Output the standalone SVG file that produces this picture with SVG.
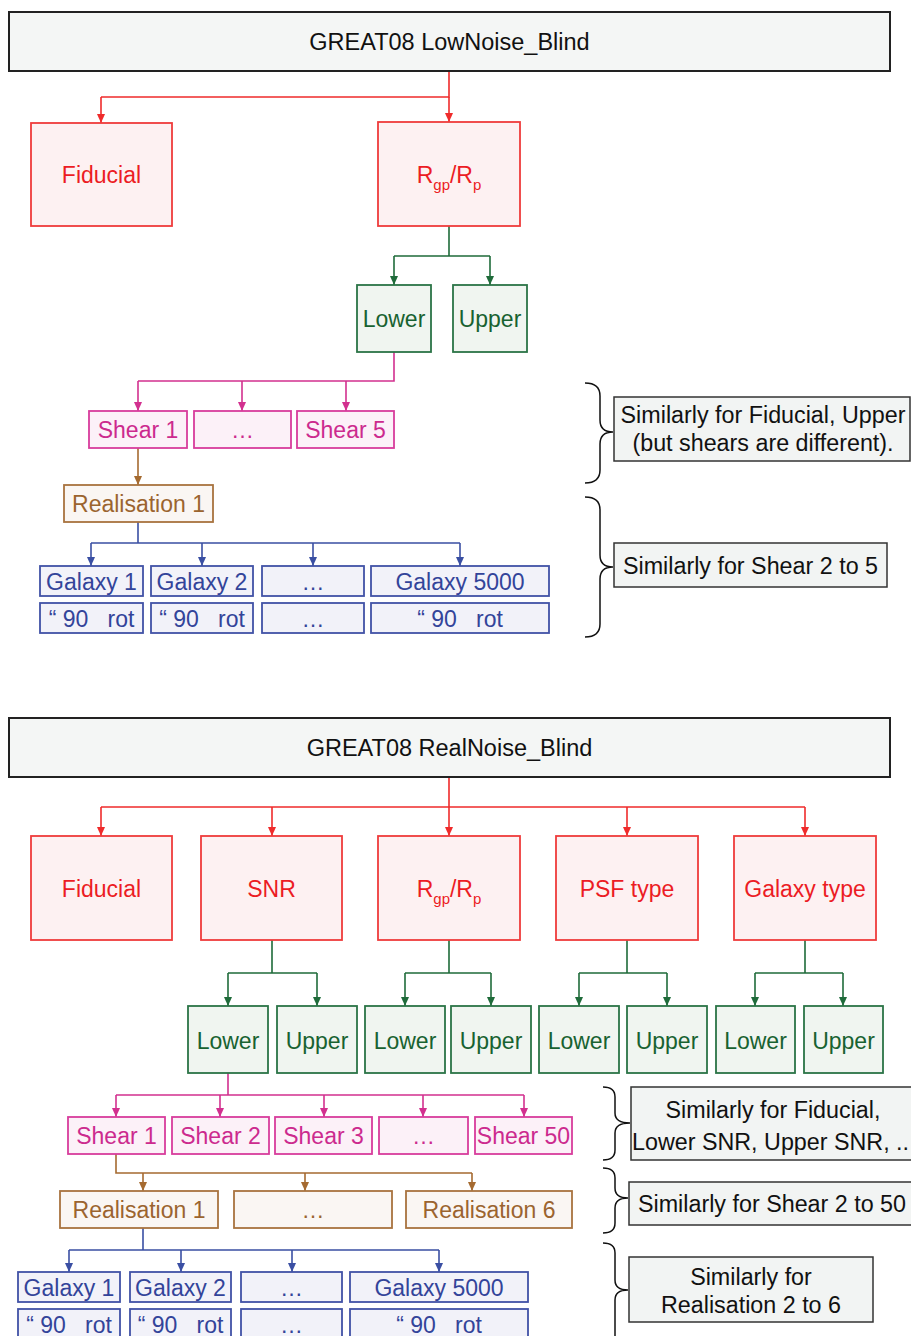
<svg xmlns="http://www.w3.org/2000/svg" width="911" height="1336" viewBox="0 0 911 1336">
<defs>
<style>
text{font-family:"Liberation Sans",Arial,sans-serif;font-size:23px;text-anchor:middle}
.title rect{fill:#f4f6f5;stroke:#222;stroke-width:2}
.title text{fill:#111;font-size:23.5px}
.note rect{fill:#f2f4f3;stroke:#333;stroke-width:1.5}
.note text{fill:#111;font-size:23.3px}
.r rect{fill:#fdf1f2;stroke:#ef3b3b;stroke-width:1.8}
.r text{fill:#ec1c24}
.g rect{fill:#f0f5f0;stroke:#2b7446;stroke-width:1.8}
.g text{fill:#186231}
.m rect{fill:#fcf1f8;stroke:#d83c9c;stroke-width:1.8}
.m text{fill:#cc2a8e}
.b rect{fill:#faf6f3;stroke:#a8733f;stroke-width:1.8}
.b text{fill:#9b642f}
.u rect{fill:#f2f2f9;stroke:#4152a6;stroke-width:1.8}
.u text{fill:#33449a;white-space:pre}
.c{fill:none;stroke-width:1.6}
.cr{stroke:#ef2b2b}.cg{stroke:#1f6b3a}.cm{stroke:#d2308f}.cb{stroke:#a56a30}.cu{stroke:#3a4fa3}
.brace{fill:none;stroke:#111;stroke-width:1.5}
</style>
<marker id="ar" markerUnits="userSpaceOnUse" markerWidth="9" markerHeight="8" refX="9" refY="4" orient="auto"><path d="M0,0L9,4L0,8z" fill="#ef2b2b"/></marker>
<marker id="ag" markerUnits="userSpaceOnUse" markerWidth="9" markerHeight="8" refX="9" refY="4" orient="auto"><path d="M0,0L9,4L0,8z" fill="#1f6b3a"/></marker>
<marker id="am" markerUnits="userSpaceOnUse" markerWidth="9" markerHeight="8" refX="9" refY="4" orient="auto"><path d="M0,0L9,4L0,8z" fill="#d2308f"/></marker>
<marker id="ab" markerUnits="userSpaceOnUse" markerWidth="9" markerHeight="8" refX="9" refY="4" orient="auto"><path d="M0,0L9,4L0,8z" fill="#a56a30"/></marker>
<marker id="au" markerUnits="userSpaceOnUse" markerWidth="9" markerHeight="8" refX="9" refY="4" orient="auto"><path d="M0,0L9,4L0,8z" fill="#3a4fa3"/></marker>
</defs>
<rect width="911" height="1336" fill="#fff"/>

<g id="connectors">
<path class="c cr" d="M449,71V97H101"/>
<path class="c cr" d="M101,97V123" marker-end="url(#ar)"/>
<path class="c cr" d="M449,97V122" marker-end="url(#ar)"/>
<path class="c cg" d="M449,226V256M394,256H490"/>
<path class="c cg" d="M394,256V285" marker-end="url(#ag)"/>
<path class="c cg" d="M490,256V285" marker-end="url(#ag)"/>
<path class="c cm" d="M394,352V381H138"/>
<path class="c cm" d="M138,381V411" marker-end="url(#am)"/>
<path class="c cm" d="M242,381V411" marker-end="url(#am)"/>
<path class="c cm" d="M346,381V411" marker-end="url(#am)"/>
<path class="c cb" d="M138,448V485" marker-end="url(#ab)"/>
<path class="c cu" d="M138,522V543M91,543H460"/>
<path class="c cu" d="M91,543V566" marker-end="url(#au)"/>
<path class="c cu" d="M202,543V566" marker-end="url(#au)"/>
<path class="c cu" d="M313,543V566" marker-end="url(#au)"/>
<path class="c cu" d="M460,543V566" marker-end="url(#au)"/>
<path class="c cr" d="M449,777V807M101,807H805"/>
<path class="c cr" d="M101,807V836" marker-end="url(#ar)"/>
<path class="c cr" d="M272,807V836" marker-end="url(#ar)"/>
<path class="c cr" d="M449,807V836" marker-end="url(#ar)"/>
<path class="c cr" d="M627,807V836" marker-end="url(#ar)"/>
<path class="c cr" d="M805,807V836" marker-end="url(#ar)"/>
<path class="c cg" d="M272,940V973M228,973H317M449,940V973M405,973H491M627,940V973M579,973H667M805,940V973M755,973H843"/>
<path class="c cg" d="M228,973V1006" marker-end="url(#ag)"/>
<path class="c cg" d="M317,973V1006" marker-end="url(#ag)"/>
<path class="c cg" d="M405,973V1006" marker-end="url(#ag)"/>
<path class="c cg" d="M491,973V1006" marker-end="url(#ag)"/>
<path class="c cg" d="M579,973V1006" marker-end="url(#ag)"/>
<path class="c cg" d="M667,973V1006" marker-end="url(#ag)"/>
<path class="c cg" d="M755,973V1006" marker-end="url(#ag)"/>
<path class="c cg" d="M843,973V1006" marker-end="url(#ag)"/>
<path class="c cm" d="M228,1073V1095M116,1095H524"/>
<path class="c cm" d="M116,1095V1117" marker-end="url(#am)"/>
<path class="c cm" d="M220,1095V1117" marker-end="url(#am)"/>
<path class="c cm" d="M324,1095V1117" marker-end="url(#am)"/>
<path class="c cm" d="M423,1095V1117" marker-end="url(#am)"/>
<path class="c cm" d="M524,1095V1117" marker-end="url(#am)"/>
<path class="c cb" d="M116,1154V1173H472"/>
<path class="c cb" d="M143,1173V1191" marker-end="url(#ab)"/>
<path class="c cb" d="M305,1173V1191" marker-end="url(#ab)"/>
<path class="c cb" d="M472,1173V1191" marker-end="url(#ab)"/>
<path class="c cu" d="M143,1228V1250M69,1250H439"/>
<path class="c cu" d="M69,1250V1272" marker-end="url(#au)"/>
<path class="c cu" d="M181,1250V1272" marker-end="url(#au)"/>
<path class="c cu" d="M292,1250V1272" marker-end="url(#au)"/>
<path class="c cu" d="M439,1250V1272" marker-end="url(#au)"/>
</g>

<g id="title1" class="title"><rect x="9" y="12" width="881" height="59"/><text x="449.5" y="50">GREAT08 LowNoise_Blind</text></g>
<g id="s1-fiducial" class="r"><rect x="31" y="123" width="141" height="103"/><text x="101.5" y="183">Fiducial</text></g>
<g id="s1-rgp" class="r"><rect x="378" y="122" width="142" height="104"/><text x="449" y="183">R<tspan font-size="15" dy="7">gp</tspan><tspan dy="-7">/R</tspan><tspan font-size="15" dy="7">p</tspan></text></g>
<g id="s1-lower" class="g"><rect x="357" y="285" width="74" height="67"/><text x="394" y="327" font-size="25">Lower</text></g>
<g id="s1-upper" class="g"><rect x="453" y="285" width="74" height="67"/><text x="490" y="327" font-size="25">Upper</text></g>
<g id="s1-shear1" class="m"><rect x="89" y="411" width="98" height="37"/><text x="138" y="438">Shear 1</text></g>
<g id="s1-shear-dots" class="m"><rect x="194" y="411" width="97" height="37"/><text x="242.5" y="438">…</text></g>
<g id="s1-shear5" class="m"><rect x="297" y="411" width="97" height="37"/><text x="345.5" y="438">Shear 5</text></g>
<g id="s1-real1" class="b"><rect x="64" y="485" width="149" height="37"/><text x="138.5" y="512">Realisation 1</text></g>
<g id="s1-gal1" class="u"><rect x="40" y="566" width="103" height="30"/><text x="91.5" y="590">Galaxy 1</text></g>
<g id="s1-gal2" class="u"><rect x="151" y="566" width="102" height="30"/><text x="202" y="590">Galaxy 2</text></g>
<g id="s1-gal-dots" class="u"><rect x="262" y="566" width="102" height="30"/><text x="313" y="590">…</text></g>
<g id="s1-gal5000" class="u"><rect x="371" y="566" width="178" height="30"/><text x="460" y="590">Galaxy 5000</text></g>
<g id="s1-rot1" class="u"><rect x="40" y="603" width="103" height="30"/><text x="91.5" y="627">“ 90   rot</text></g>
<g id="s1-rot2" class="u"><rect x="151" y="603" width="102" height="30"/><text x="202" y="627">“ 90   rot</text></g>
<g id="s1-rot-dots" class="u"><rect x="262" y="603" width="102" height="30"/><text x="313" y="627">…</text></g>
<g id="s1-rot5000" class="u"><rect x="371" y="603" width="178" height="30"/><text x="460" y="627">“ 90   rot</text></g>

<g id="s1-note1" class="note"><path class="brace" d="M585,383Q600,383 600,396V420Q600,432 613,432Q600,432 600,444V470Q600,483 585,483"/><rect x="614" y="397" width="296" height="64"/><text x="763" y="423">Similarly for Fiducial, Upper</text><text x="763" y="451">(but shears are different).</text></g>
<g id="s1-note2" class="note"><path class="brace" d="M585,497Q600,497 600,510V555Q600,567 613,567Q600,567 600,579V624Q600,637 585,637"/><rect x="614" y="543" width="273" height="44"/><text x="750.5" y="574">Similarly for Shear 2 to 5</text></g>

<g id="title2" class="title"><rect x="9" y="718" width="881" height="59"/><text x="449.5" y="756">GREAT08 RealNoise_Blind</text></g>
<g id="s2-fiducial" class="r"><rect x="31" y="836" width="141" height="104"/><text x="101.5" y="897">Fiducial</text></g>
<g id="s2-snr" class="r"><rect x="201" y="836" width="141" height="104"/><text x="271.5" y="897">SNR</text></g>
<g id="s2-rgp" class="r"><rect x="378" y="836" width="142" height="104"/><text x="449" y="897">R<tspan font-size="15" dy="7">gp</tspan><tspan dy="-7">/R</tspan><tspan font-size="15" dy="7">p</tspan></text></g>
<g id="s2-psf" class="r"><rect x="556" y="836" width="142" height="104"/><text x="627" y="897">PSF type</text></g>
<g id="s2-galtype" class="r"><rect x="734" y="836" width="142" height="104"/><text x="805" y="897">Galaxy type</text></g>
<g id="s2-lower1" class="g"><rect x="188" y="1006" width="80" height="67"/><text x="228" y="1049" font-size="24">Lower</text></g>
<g id="s2-upper1" class="g"><rect x="277" y="1006" width="80" height="67"/><text x="317" y="1049" font-size="24">Upper</text></g>
<g id="s2-lower2" class="g"><rect x="365" y="1006" width="80" height="67"/><text x="405" y="1049" font-size="24">Lower</text></g>
<g id="s2-upper2" class="g"><rect x="451" y="1006" width="80" height="67"/><text x="491" y="1049" font-size="24">Upper</text></g>
<g id="s2-lower3" class="g"><rect x="539" y="1006" width="80" height="67"/><text x="579" y="1049" font-size="24">Lower</text></g>
<g id="s2-upper3" class="g"><rect x="627" y="1006" width="80" height="67"/><text x="667" y="1049" font-size="24">Upper</text></g>
<g id="s2-lower4" class="g"><rect x="716" y="1006" width="79" height="67"/><text x="755.5" y="1049" font-size="24">Lower</text></g>
<g id="s2-upper4" class="g"><rect x="804" y="1006" width="79" height="67"/><text x="843.5" y="1049" font-size="24">Upper</text></g>
<g id="s2-shear1" class="m"><rect x="68" y="1117" width="97" height="37"/><text x="116.5" y="1144">Shear 1</text></g>
<g id="s2-shear2" class="m"><rect x="172" y="1117" width="97" height="37"/><text x="220.5" y="1144">Shear 2</text></g>
<g id="s2-shear3" class="m"><rect x="275" y="1117" width="97" height="37"/><text x="323.5" y="1144">Shear 3</text></g>
<g id="s2-shear-dots" class="m"><rect x="379" y="1117" width="89" height="37"/><text x="423.5" y="1144">…</text></g>
<g id="s2-shear50" class="m"><rect x="475" y="1117" width="97" height="37"/><text x="523.5" y="1144">Shear 50</text></g>
<g id="s2-real1" class="b"><rect x="60" y="1191" width="158" height="37"/><text x="139" y="1218">Realisation 1</text></g>
<g id="s2-real-dots" class="b"><rect x="234" y="1191" width="158" height="37"/><text x="313" y="1218">…</text></g>
<g id="s2-real6" class="b"><rect x="406" y="1191" width="166" height="37"/><text x="489" y="1218">Realisation 6</text></g>
<g id="s2-gal1" class="u"><rect x="18" y="1272" width="102" height="30"/><text x="69" y="1296">Galaxy 1</text></g>
<g id="s2-gal2" class="u"><rect x="130" y="1272" width="101" height="30"/><text x="180.5" y="1296">Galaxy 2</text></g>
<g id="s2-gal-dots" class="u"><rect x="241" y="1272" width="101" height="30"/><text x="291.5" y="1296">…</text></g>
<g id="s2-gal5000" class="u"><rect x="350" y="1272" width="178" height="30"/><text x="439" y="1296">Galaxy 5000</text></g>
<g id="s2-rot1" class="u"><rect x="18" y="1309" width="102" height="30"/><text x="69" y="1333">“ 90   rot</text></g>
<g id="s2-rot2" class="u"><rect x="130" y="1309" width="101" height="30"/><text x="180.5" y="1333">“ 90   rot</text></g>
<g id="s2-rot-dots" class="u"><rect x="241" y="1309" width="101" height="30"/><text x="291.5" y="1333">…</text></g>
<g id="s2-rot5000" class="u"><rect x="350" y="1309" width="178" height="30"/><text x="439" y="1333">“ 90   rot</text></g>

<g id="s2-note1" class="note"><path class="brace" d="M603,1087Q615,1087 615,1097V1113Q615,1123 630,1123Q615,1123 615,1133V1150Q615,1160 603,1160"/><rect x="631" y="1087" width="290" height="73"/><text x="773" y="1118">Similarly for Fiducial,</text><text x="632" y="1150" style="text-anchor:start">Lower SNR, Upper SNR, ..</text></g>
<g id="s2-note2" class="note"><path class="brace" d="M603,1168Q615,1168 615,1178V1188Q615,1198 628,1198Q615,1198 615,1208V1223Q615,1233 603,1233"/><rect x="629" y="1182" width="292" height="43"/><text x="638" y="1212" style="text-anchor:start">Similarly for Shear 2 to 50</text></g>
<g id="s2-note3" class="note"><path class="brace" d="M603,1243Q615,1243 615,1253V1280Q615,1290 628,1290Q615,1290 615,1300V1345"/><rect x="629" y="1257" width="244" height="65"/><text x="751" y="1285">Similarly for</text><text x="751" y="1313">Realisation 2 to 6</text></g>
</svg>
